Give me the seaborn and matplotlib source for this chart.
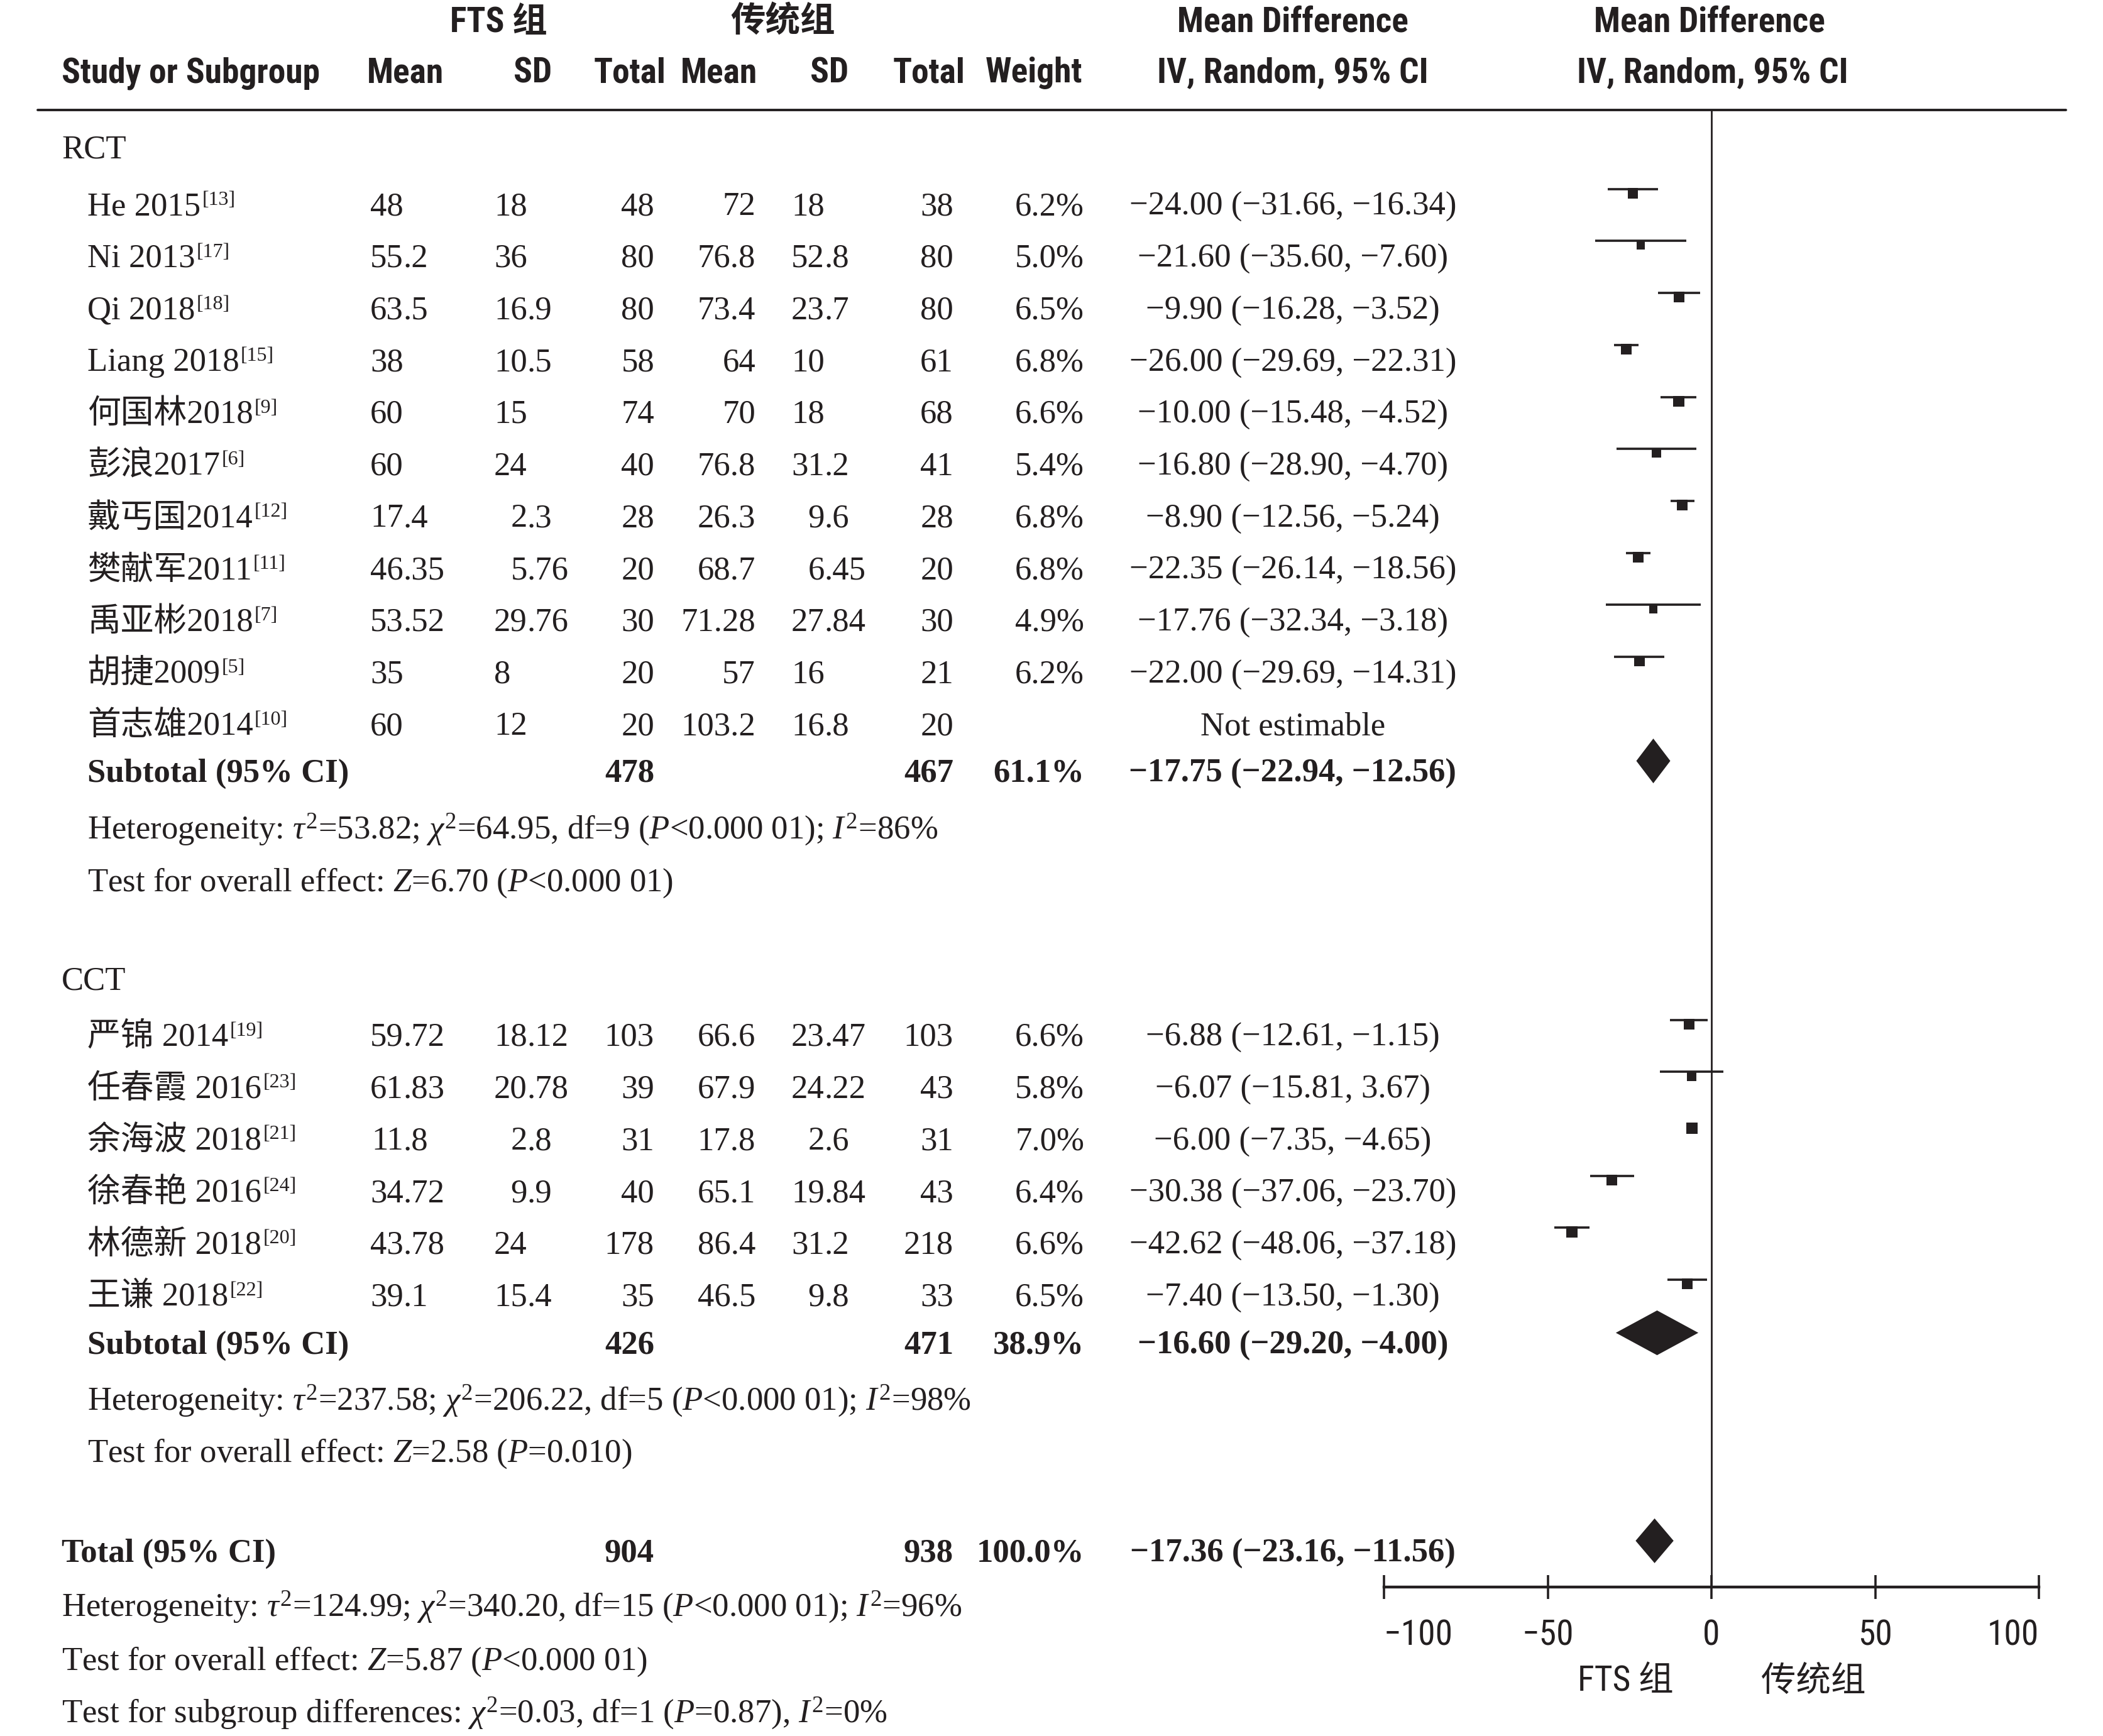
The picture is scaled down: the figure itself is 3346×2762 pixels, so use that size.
import numpy as np
import pandas as pd
import matplotlib
matplotlib.use('Agg')
import matplotlib.pyplot as plt
import seaborn as sns
from matplotlib import font_manager
from matplotlib.lines import Line2D
from matplotlib.transforms import blended_transform_factory

# ---- data ----
studies_rct = ['He 2015', 'Ni 2013', 'Qi 2018', 'Liang 2018', '何国林2018', '彭浪2017',
               '戴丐国2014', '樊献军2011', '禹亚彬2018', '胡捷2009', '首志雄2014']
refs_rct = ['[13]', '[17]', '[18]', '[15]', '[9]', '[6]', '[12]', '[11]', '[7]', '[5]', '[10]']
fts_mean_rct = [48, 55.2, 63.5, 38, 60, 60, 17.4, 46.35, 53.52, 35, 60]
fts_sd_rct = [18, 36, 16.9, 10.5, 15, 24, 2.3, 5.76, 29.76, 8, 12]
fts_n_rct = [48, 80, 80, 58, 74, 40, 28, 20, 30, 20, 20]
con_mean_rct = [72, 76.8, 73.4, 64, 70, 76.8, 26.3, 68.7, 71.28, 57, 103.2]
con_sd_rct = [18, 52.8, 23.7, 10, 18, 31.2, 9.6, 6.45, 27.84, 16, 16.8]
con_n_rct = [38, 80, 80, 61, 68, 41, 28, 20, 30, 21, 20]
weight_rct = [6.2, 5.0, 6.5, 6.8, 6.6, 5.4, 6.8, 6.8, 4.9, 6.2, None]
md_rct = [-24.00, -21.60, -9.90, -26.00, -10.00, -16.80, -8.90, -22.35, -17.76, -22.00, None]
lo_rct = [-31.66, -35.60, -16.28, -29.69, -15.48, -28.90, -12.56, -26.14, -32.34, -29.69, None]
hi_rct = [-16.34, -7.60, -3.52, -22.31, -4.52, -4.70, -5.24, -18.56, -3.18, -14.31, None]

studies_cct = ['严锦 2014', '任春霞 2016', '余海波 2018', '徐春艳 2016', '林德新 2018', '王谦 2018']
refs_cct = ['[19]', '[23]', '[21]', '[24]', '[20]', '[22]']
fts_mean_cct = [59.72, 61.83, 11.8, 34.72, 43.78, 39.1]
fts_sd_cct = [18.12, 20.78, 2.8, 9.9, 24, 15.4]
fts_n_cct = [103, 39, 31, 40, 178, 35]
con_mean_cct = [66.6, 67.9, 17.8, 65.1, 86.4, 46.5]
con_sd_cct = [23.47, 24.22, 2.6, 19.84, 31.2, 9.8]
con_n_cct = [103, 43, 31, 43, 218, 33]
weight_cct = [6.6, 5.8, 7.0, 6.4, 6.6, 6.5]
md_cct = [-6.88, -6.07, -6.00, -30.38, -42.62, -7.40]
lo_cct = [-12.61, -15.81, -7.35, -37.06, -48.06, -13.50]
hi_cct = [-1.15, 3.67, -4.65, -23.70, -37.18, -1.30]

# pooled rows: fts total, control total, weight, md, lo, hi
sub_rct = [478, 467, 61.1, -17.75, -22.94, -12.56]
sub_cct = [426, 471, 38.9, -16.60, -29.20, -4.00]
total_all = [904, 938, 100.0, -17.36, -23.16, -11.56]

het_rct = r'Heterogeneity: $\tau^2$=53.82; $\chi^2$=64.95, df=9 ($P$<0.000 01); $I^2$=86%'
eff_rct = r'Test for overall effect: $Z$=6.70 ($P$<0.000 01)'
het_cct = r'Heterogeneity: $\tau^2$=237.58; $\chi^2$=206.22, df=5 ($P$<0.000 01); $I^2$=98%'
eff_cct = r'Test for overall effect: $Z$=2.58 ($P$=0.010)'
het_all = r'Heterogeneity: $\tau^2$=124.99; $\chi^2$=340.20, df=15 ($P$<0.000 01); $I^2$=96%'
eff_all = r'Test for overall effect: $Z$=5.87 ($P$<0.000 01)'
sub_diff = r'Test for subgroup differences: $\chi^2$=0.03, df=1 ($P$=0.87), $I^2$=0%'

x_ticks = [-100, -50, 0, 50, 100]
favours = ['FTS 组', '传统组']

# ---- style ----
sns.set_theme(style='ticks')
installed = {f.name for f in font_manager.fontManager.ttflist}
NARROW = 'Liberation Sans'
for cand in ['Liberation Sans Narrow', 'Roboto Condensed', 'Open Sans Condensed',
             'Noto Sans Condensed', 'DejaVu Sans Condensed']:
    if cand in installed:
        NARROW = cand
        break
SERIF = ['Liberation Serif', 'Noto Sans CJK SC']
SANS = [NARROW, 'Noto Sans CJK SC']
plt.rcParams['font.family'] = SERIF
plt.rcParams['mathtext.fontset'] = 'custom'
plt.rcParams['mathtext.rm'] = 'Liberation Serif'
plt.rcParams['mathtext.it'] = 'Liberation Serif:italic'
plt.rcParams['mathtext.bf'] = 'Liberation Serif:bold'
INK = '#231f20'
BODY = 19

W, H = 3346, 2762
fig = plt.figure(figsize=(W / 200, H / 200), dpi=200)
fig.patch.set_facecolor('white')

# size the sans headers so "Study or Subgroup" is as wide as in the original (~412 px)
renderer = fig.canvas.get_renderer()
probe = fig.text(0, 0, 'Study or Subgroup', fontsize=19, fontweight='bold', family=SANS)
HEAD = 19 * 412 / probe.get_window_extent(renderer).width
probe.remove()

ax = fig.add_axes([2202 / W, 1 - 2525 / H, (3244 - 2202) / W, (2525 - 175) / H])

# row layout (in row units)
rct_rows = 1.1 + np.arange(len(studies_rct))
cct_rows = 17.08 + np.arange(len(studies_cct))
Y_RCT, Y_SUB1, Y_HET1, Y_EFF1 = 0, 12.0, 13.1, 14.1
Y_CCT, Y_SUB2, Y_HET2, Y_EFF2 = 16.0, 23.0, 24.08, 25.08
Y_TOT, Y_HET3, Y_EFF3, Y_DIFF = 27.0, 28.05, 29.08, 30.09

# ---- forest panel ----
forest = pd.DataFrame({
    'md': md_rct + md_cct, 'lo': lo_rct + lo_cct, 'hi': hi_rct + hi_cct,
    'weight': weight_rct + weight_cct,
    'row': list(rct_rows) + list(cct_rows),
}).dropna()
forest['y'] = forest['row'] - 0.3
forest['ybox'] = forest['y'] + 0.08   # boxes hang just below the CI line

ax.hlines(forest['y'], forest['lo'], forest['hi'], color=INK, lw=1.3)
sns.scatterplot(data=forest, x='md', y='ybox', size='weight', sizes=(24, 42), size_norm=(4.9, 7.0),
                marker='s', color=INK, linewidth=0, legend=False, ax=ax)

def diamond(vals, row, h=0.43):
    est, lo, hi = vals[3], vals[4], vals[5]
    y = row - 0.2
    ax.fill([lo, est, hi, est], [y, y - h, y, y + h], color=INK, lw=0)

diamond(sub_rct, Y_SUB1)
diamond(sub_cct, Y_SUB2)
diamond(total_all, Y_TOT)

ax.axvline(0, color=INK, lw=1.0)
ax.set_xlim(-100, 100)
ax.set_ylim(27.69, -0.72)
ax.set_yticks([])
ax.set_xlabel('')
ax.set_ylabel('')
sns.despine(ax=ax, left=True, top=True, right=True)
ax.spines['bottom'].set_linewidth(1.6)
ax.spines['bottom'].set_color(INK)
ax.set_xticks(x_ticks)
ax.set_xticklabels([f'{t}'.replace('-', '\u2212') for t in x_ticks])
ax.tick_params(axis='x', direction='inout', length=14, width=1.3, colors=INK, pad=11,
               labelsize=HEAD)
for lbl in ax.get_xticklabels():
    lbl.set_fontfamily(SANS)
ax.get_xticklabels()[0].set_ha('left')
ax.get_xticklabels()[-1].set_ha('right')

ax.text(-11.5, Y_DIFF - 0.4, favours[0], ha='right', va='baseline', fontsize=HEAD,
        family=SANS, color=INK)
ax.text(15.2, Y_DIFF - 0.4, favours[1], ha='left', va='baseline', fontsize=HEAD,
        family=SANS, color=INK)

# ---- table text ----
tt = blended_transform_factory(fig.transFigure, ax.transData)

def put(xpx, row, s, ha='left', bold=False, family=SERIF, size=BODY, off=0.2):
    return ax.text(xpx / W, row + off, s, transform=tt, ha=ha, va='baseline', fontsize=size,
                   fontweight='bold' if bold else 'normal', family=family, color=INK)

def head(xpx, row, s, ha='center'):
    return put(xpx, row, s, ha=ha, bold=True, family=SANS, size=HEAD, off=0.22)

DIG = BODY * 200 / 72 * 0.5  # width of one digit in px

def put_num(x_left, row, v):
    s = f'{v:g}'
    if '.' in s:
        a, b = s.split('.')
        put(x_left + 2 * DIG, row, a, ha='right')
        put(x_left + 2 * DIG, row, '.' + b)
    else:
        put(x_left, row, s)

def ci_text(md, lo, hi):
    return f'{md:.2f} ({lo:.2f}, {hi:.2f})'.replace('-', '\u2212')

C_SEC, C_NAME = 98, 139
C_FM, C_FS, C_FN = 589, 786, 1041
C_CM, C_CS, C_CN = 1202, 1259, 1517
C_W, C_CI = 1725, 2057

# header
head(793, -2.45, 'FTS 组')
head(1246, -2.45, '传统组')
head(2057, -2.45, 'Mean Difference')
head(2720, -2.45, 'Mean Difference')
head(C_SEC, -1.47, 'Study or Subgroup', ha='left')
for xpx, s in [(645, 'Mean'), (848, 'SD'), (1002, 'Total'), (1144, 'Mean'), (1320, 'SD'),
               (1478, 'Total'), (1645, 'Weight'), (2057, 'IV, Random, 95% CI'),
               (2725, 'IV, Random, 95% CI')]:
    head(xpx, -1.47, s)
fig.add_artist(Line2D([60 / W, 3287 / W], [1 - 175 / H] * 2, transform=fig.transFigure,
                      color=INK, lw=1.4))

def study_block(rows, names, refs, fm, fs, fn, cm, cs, cn, wt, md, lo, hi):
    for i, r in enumerate(rows):
        t = put(C_NAME, r, names[i])
        ax.annotate(refs[i], xy=(1, 1), xycoords=t, xytext=(0.8, 0.3), textcoords='offset points',
                    ha='left', va='top', fontsize=11.5, family=SERIF, color=INK)
        put_num(C_FM, r, fm[i])
        put_num(C_FS, r, fs[i])
        put(C_FN, r, f'{fn[i]}', ha='right')
        put(C_CM, r, f'{cm[i]:g}', ha='right')
        put_num(C_CS, r, cs[i])
        put(C_CN, r, f'{cn[i]}', ha='right')
        if wt[i] is None:
            put(C_CI, r, 'Not estimable', ha='center')
        else:
            put(C_W, r, f'{wt[i]:.1f}%', ha='right')
            put(C_CI, r, ci_text(md[i], lo[i], hi[i]), ha='center')

def pooled_row(row, x, label, vals):
    put(x, row, label, bold=True)
    put(C_FN, row, f'{vals[0]}', ha='right', bold=True)
    put(C_CN, row, f'{vals[1]}', ha='right', bold=True)
    put(C_W, row, f'{vals[2]:.1f}%', ha='right', bold=True)
    put(C_CI, row, ci_text(vals[3], vals[4], vals[5]), ha='center', bold=True)

put(C_SEC, Y_RCT, 'RCT')
study_block(rct_rows, studies_rct, refs_rct, fts_mean_rct, fts_sd_rct, fts_n_rct,
            con_mean_rct, con_sd_rct, con_n_rct, weight_rct, md_rct, lo_rct, hi_rct)
pooled_row(Y_SUB1, C_NAME, 'Subtotal (95% CI)', sub_rct)
put(C_NAME, Y_HET1, het_rct)
put(C_NAME, Y_EFF1, eff_rct)

put(C_SEC, Y_CCT, 'CCT')
study_block(cct_rows, studies_cct, refs_cct, fts_mean_cct, fts_sd_cct, fts_n_cct,
            con_mean_cct, con_sd_cct, con_n_cct, weight_cct, md_cct, lo_cct, hi_cct)
pooled_row(Y_SUB2, C_NAME, 'Subtotal (95% CI)', sub_cct)
put(C_NAME, Y_HET2, het_cct)
put(C_NAME, Y_EFF2, eff_cct)

pooled_row(Y_TOT, C_SEC, 'Total (95% CI)', total_all)
put(C_SEC, Y_HET3, het_all)
put(C_SEC, Y_EFF3, eff_all)
put(C_SEC, Y_DIFF, sub_diff)

fig.savefig('out.png', dpi=200, facecolor='white')
